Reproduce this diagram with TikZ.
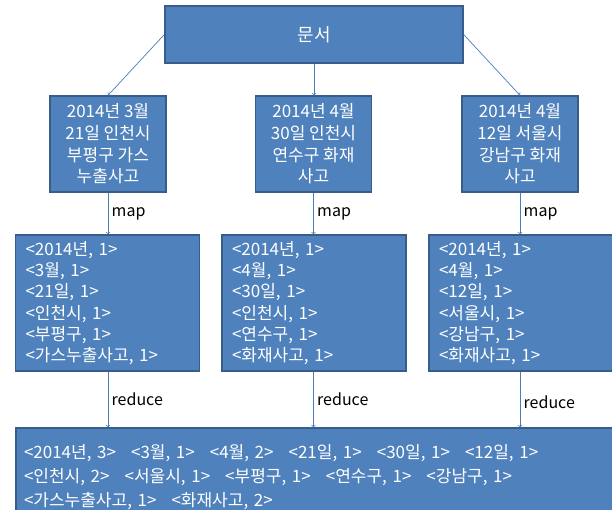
\documentclass[tikz,border=0pt]{standalone}
\usepackage{fontspec}
\setmainfont{Noto Sans CJK KR}
\usepackage{tikz}
\usetikzlibrary{shapes,arrows,positioning,calc}
\definecolor{boxblue}{HTML}{4F81BD}
\definecolor{edgeblue}{HTML}{385D8A}
\definecolor{arrowblue}{HTML}{4A7EBB}
\newcommand{\gap}{\hspace{15pt}}

\begin{document}
\begin{tikzpicture}[x=1pt,y=-1pt,
  box/.style={draw=edgeblue,line width=1.3pt,fill=boxblue,text=white,inner sep=0pt},
  docbox/.style={box,minimum width=116pt,minimum height=96pt,align=center,font=\fontsize{17}{21.7}\selectfont},
  mapbox/.style={box,minimum width=184pt,minimum height=136pt,text width=164pt,align=left,font=\fontsize{17}{21.3}\selectfont},
  link/.style={arrowblue,line width=0.7pt,->},
  lbl/.style={right,font=\fontsize{16}{18}\selectfont,text=black}]
  \useasboundingbox (0,0) rectangle (612,509);

  % Document
  \node[box,minimum width=298pt,minimum height=57pt,font=\fontsize{18}{20}\selectfont] (doc) at (314,34.5) {문서};

  % Input records
  \node[docbox] (rec1) at (108,144) {2014년 3월\\21일 인천시\\부평구 가스\\누출사고};
  \node[docbox] (rec2) at (313.5,144) {2014년 4월\\30일 인천시\\연수구 화재\\사고};
  \node[docbox] (rec3) at (520,144) {2014년 4월\\12일 서울시\\강남구 화재\\사고};

  % Map output
  \node[mapbox] (map1) at (107.5,303) {<2014년, 1>\\<3월, 1>\\<21일, 1>\\<인천시, 1>\\<부평구, 1>\\<가스누출사고, 1>};
  \node[mapbox] (map2) at (314,303) {<2014년, 1>\\<4월, 1>\\<30일, 1>\\<인천시, 1>\\<연수구, 1>\\<화재사고, 1>};
  \node[mapbox] (map3) at (521,303) {<2014년, 1>\\<4월, 1>\\<12일, 1>\\<서울시, 1>\\<강남구, 1>\\<화재사고, 1>};

  % Reduce output
  \node[box,minimum width=600pt,minimum height=98pt,text width=584pt,align=left,font=\fontsize{17}{24}\selectfont] (red) at (316,477)
    {<2014년, 3>\gap<3월, 1>\gap<4월, 2>\gap<21일, 1>\gap<30일, 1>\gap<12일, 1>\\
     <인천시, 2>\gap<서울시, 1>\gap<부평구, 1>\gap<연수구, 1>\gap<강남구, 1>\\
     <가스누출사고, 1>\gap<화재사고, 2>};

  % Split
  \draw[link] (doc.west) -- (rec1.north);
  \draw[link] (doc.south) -- (doc.south |- rec2.north);
  \draw[link] (doc.east) -- (rec3.north);

  % Map
  \draw[link] (rec1.south) -- (rec1.south |- map1.north) node[lbl,midway] {map};
  \draw[link] (rec2.south) -- (rec2.south |- map2.north) node[lbl,midway] {map};
  \draw[link] (rec3.south) -- (rec3.south |- map3.north) node[lbl,midway] {map};

  % Reduce
  \draw[link] (map1.south -| rec1.south) -- (rec1.south |- red.north) node[lbl,midway] {reduce};
  \draw[link] (map2.south -| rec2.south) -- (rec2.south |- red.north) node[lbl,midway] {reduce};
  \draw[link] (map3.south -| rec3.south) -- (rec3.south |- red.north) node[lbl,pos=0.55] {reduce};
\end{tikzpicture}
\end{document}
